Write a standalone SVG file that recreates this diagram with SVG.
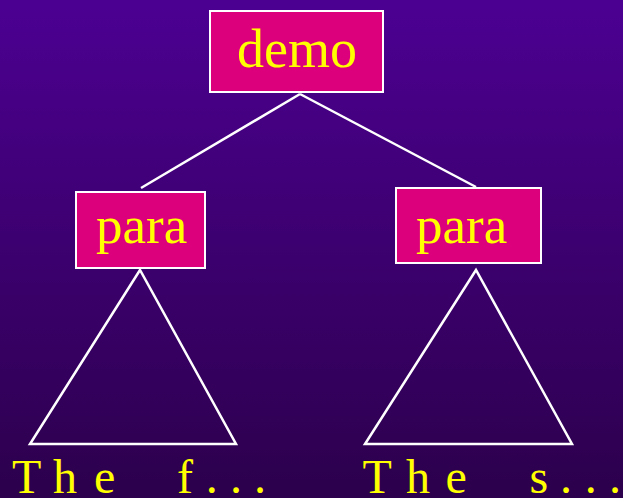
<svg xmlns="http://www.w3.org/2000/svg" width="623" height="498" viewBox="0 0 623 498">
  <defs>
    <linearGradient id="bg" x1="0" y1="0" x2="0" y2="1">
      <stop offset="0" stop-color="#4c0092"/>
      <stop offset="1" stop-color="#2c004c"/>
    </linearGradient>
    <style>
      .box { fill: #dc007c; stroke: #ffffff; stroke-width: 2; }
      .edge { stroke: #ffffff; stroke-width: 2.5; fill: none; }
      .label { font-family: "Liberation Serif", "Times New Roman", serif; font-size: 53px; fill: #ffff00; }
      .leaf { font-family: "Liberation Serif", "Times New Roman", serif; font-size: 48px; fill: #ffff00; }
    </style>
  </defs>

  <rect x="0" y="0" width="623" height="498" fill="url(#bg)"/>

  <!-- tree edges and subtree triangles -->
  <g id="connectors">
    <line class="edge" x1="300" y1="94" x2="141" y2="188"/>
    <line class="edge" x1="300" y1="94" x2="476" y2="187"/>
    <polygon class="edge" points="140,270 30,444 236,444"/>
    <polygon class="edge" points="476,270 365,444 572,444"/>
  </g>

  <g id="demo">
    <rect class="box" x="210" y="11" width="173" height="81"/>
    <text class="label" x="237" y="67" style="font-size:54px">demo</text>
  </g>

  <g id="para-left">
    <rect class="box" x="76" y="192" width="129" height="76"/>
    <text class="label" x="96" y="243">para</text>
  </g>

  <g id="para-right">
    <rect class="box" x="396" y="188" width="145" height="75"/>
    <text class="label" x="416" y="243">para</text>
  </g>

  <!-- leaf text, one position per character (space included) -->
  <g id="leaf-left">
    <text class="leaf" y="493" x="12 53 94 140 177 205.7 230 254">The f...</text>
  </g>

  <g id="leaf-right">
    <text class="leaf" y="493" x="362.5 406 445.5 490 529.5 560 584.7 609">The s...</text>
  </g>
</svg>
